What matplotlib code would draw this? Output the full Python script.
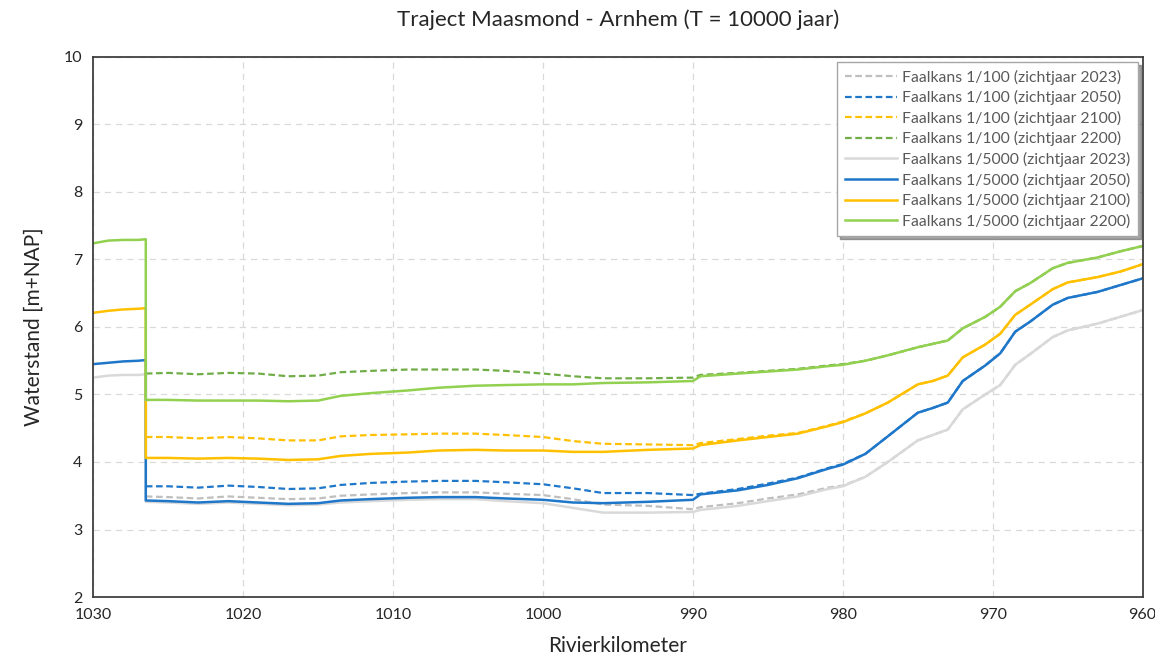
import matplotlib.pyplot as plt

plt.rcParams['font.family'] = ['Lato', 'DejaVu Sans']

# rivierkilometers: stuk voor de sprong (alleen 1/5000) en hoofdtraject
km_pre = [1030, 1029, 1028, 1027, 1026.5]
km_main = [1026.5, 1025, 1023, 1021, 1019, 1017, 1015, 1013.5, 1011.5, 1009,
           1007, 1004.5, 1002.5, 1000, 998, 996, 993, 990, 989.5, 987,
           985, 983, 981, 980, 978.5, 977, 975, 974, 973, 972,
           970.5, 969.5, 968.5, 967.5, 966, 965, 963, 961.5, 960]

# Faalkans 1/5000 - voor de sprong
g5000_2023_pre = [5.25, 5.28, 5.29, 5.29, 5.30]
b5000_2050_pre = [5.45, 5.47, 5.49, 5.50, 5.51]
y5000_2100_pre = [6.21, 6.24, 6.26, 6.27, 6.28]
gr5000_2200_pre = [7.24, 7.28, 7.29, 7.29, 7.30]

# Faalkans 1/5000 - hoofdtraject
g5000_2023 = [3.41, 3.40, 3.38, 3.40, 3.38, 3.36, 3.37, 3.40, 3.42, 3.44,
              3.45, 3.45, 3.42, 3.39, 3.32, 3.25, 3.25, 3.26, 3.29, 3.35,
              3.42, 3.49, 3.60, 3.64, 3.78, 4.00, 4.32, 4.40, 4.48, 4.78,
              5.00, 5.14, 5.44, 5.60, 5.85, 5.95, 6.05, 6.15, 6.25]
b5000_2050 = [3.43, 3.42, 3.40, 3.42, 3.40, 3.38, 3.39, 3.43, 3.45, 3.47,
              3.48, 3.48, 3.46, 3.44, 3.40, 3.39, 3.41, 3.44, 3.52, 3.58,
              3.66, 3.76, 3.90, 3.96, 4.12, 4.38, 4.73, 4.80, 4.88, 5.20,
              5.43, 5.61, 5.93, 6.08, 6.33, 6.43, 6.52, 6.62, 6.72]
y5000_2100 = [4.06, 4.06, 4.05, 4.06, 4.05, 4.03, 4.04, 4.09, 4.12, 4.14,
              4.17, 4.18, 4.17, 4.17, 4.15, 4.15, 4.18, 4.20, 4.25, 4.32,
              4.37, 4.42, 4.53, 4.59, 4.72, 4.88, 5.15, 5.20, 5.28, 5.55,
              5.74, 5.90, 6.18, 6.33, 6.56, 6.66, 6.74, 6.82, 6.93]
gr5000_2200 = [4.92, 4.92, 4.91, 4.91, 4.91, 4.90, 4.91, 4.98, 5.02, 5.06,
               5.10, 5.13, 5.14, 5.15, 5.15, 5.17, 5.18, 5.20, 5.27, 5.31,
               5.34, 5.37, 5.42, 5.44, 5.50, 5.58, 5.70, 5.75, 5.80, 5.98,
               6.15, 6.30, 6.53, 6.65, 6.87, 6.95, 7.03, 7.12, 7.20]

# Faalkans 1/100 - hoofdtraject
g100_2023 = [3.49, 3.48, 3.46, 3.49, 3.47, 3.45, 3.46, 3.50, 3.52, 3.54,
             3.55, 3.55, 3.53, 3.51, 3.45, 3.37, 3.35, 3.30, 3.33, 3.39,
             3.46, 3.52, 3.62, 3.65, 3.78, 4.00, 4.32, 4.40, 4.48, 4.78,
             5.00, 5.14, 5.44, 5.60, 5.85, 5.95, 6.05, 6.15, 6.25]
b100_2050 = [3.64, 3.64, 3.62, 3.65, 3.63, 3.60, 3.61, 3.66, 3.69, 3.71,
             3.72, 3.72, 3.70, 3.67, 3.61, 3.54, 3.54, 3.51, 3.53, 3.60,
             3.68, 3.77, 3.91, 3.97, 4.12, 4.38, 4.73, 4.80, 4.88, 5.20,
             5.43, 5.61, 5.93, 6.08, 6.33, 6.43, 6.52, 6.62, 6.72]
y100_2100 = [4.37, 4.37, 4.35, 4.37, 4.35, 4.32, 4.32, 4.38, 4.40, 4.41,
             4.42, 4.42, 4.40, 4.37, 4.31, 4.27, 4.26, 4.25, 4.28, 4.34,
             4.39, 4.43, 4.54, 4.60, 4.72, 4.88, 5.15, 5.20, 5.28, 5.55,
             5.74, 5.90, 6.18, 6.33, 6.56, 6.66, 6.74, 6.82, 6.93]
gr100_2200 = [5.31, 5.32, 5.30, 5.32, 5.31, 5.27, 5.28, 5.33, 5.35, 5.37,
              5.37, 5.37, 5.35, 5.31, 5.27, 5.24, 5.24, 5.25, 5.29, 5.32,
              5.35, 5.38, 5.43, 5.45, 5.50, 5.58, 5.70, 5.75, 5.80, 5.98,
              6.15, 6.30, 6.53, 6.65, 6.87, 6.95, 7.03, 7.12, 7.20]

fig = plt.figure(figsize=(11.55, 6.58), dpi=100)
ax = fig.add_axes([0.0808, 0.0927, 0.9085, 0.8207])

dash = (0, (3, 1.6))
ax.plot(km_main, g100_2023, color='#BFBFBF', lw=1.6, ls=dash, label='Faalkans 1/100 (zichtjaar 2023)')
ax.plot(km_main, b100_2050, color='#1F77C9', lw=1.6, ls=dash, label='Faalkans 1/100 (zichtjaar 2050)')
ax.plot(km_main, y100_2100, color='#FFC000', lw=1.6, ls=dash, label='Faalkans 1/100 (zichtjaar 2100)')
ax.plot(km_main, gr100_2200, color='#70AD47', lw=1.6, ls=dash, label='Faalkans 1/100 (zichtjaar 2200)')
ax.plot(km_pre + km_main, g5000_2023_pre + g5000_2023, color='#D9D9D9', lw=1.8, label='Faalkans 1/5000 (zichtjaar 2023)')
ax.plot(km_pre + km_main, b5000_2050_pre + b5000_2050, color='#1F77C9', lw=1.8, label='Faalkans 1/5000 (zichtjaar 2050)')
ax.plot(km_pre + km_main, y5000_2100_pre + y5000_2100, color='#FFC000', lw=1.8, label='Faalkans 1/5000 (zichtjaar 2100)')
ax.plot(km_pre + km_main, gr5000_2200_pre + gr5000_2200, color='#92D050', lw=1.8, label='Faalkans 1/5000 (zichtjaar 2200)')

ax.set_xlim(1030, 960)
ax.set_ylim(2, 10)
ax.set_xticks(range(1030, 959, -10))
ax.set_yticks(range(2, 11))
ax.grid(color='#D9D9D9', linestyle=(0, (5, 4)), linewidth=0.9)
ax.set_axisbelow(True)
for s in ax.spines.values():
    s.set_color('#404040')
    s.set_linewidth(1.3)
ax.tick_params(length=0, labelsize=11.5, colors='#262626', pad=8)

ax.set_title('Traject Maasmond - Arnhem (T = 10000 jaar)', fontsize=16, color='#262626', pad=22)
ax.set_xlabel('Rivierkilometer', fontsize=15, color='#262626', labelpad=10)
ax.set_ylabel('Waterstand [m+NAP]', fontsize=15, color='#262626', labelpad=14)

leg = ax.legend(loc='upper right', bbox_to_anchor=(0.9955, 0.991), borderaxespad=0,
                fontsize=11.3, shadow=True, fancybox=False, edgecolor='#A6A6A6',
                handlelength=3.3, handletextpad=0.3, labelspacing=0.35, borderpad=0.5,
                framealpha=1)
for t in leg.get_texts():
    t.set_color('#595959')

fig.savefig('out.png', dpi=100)
